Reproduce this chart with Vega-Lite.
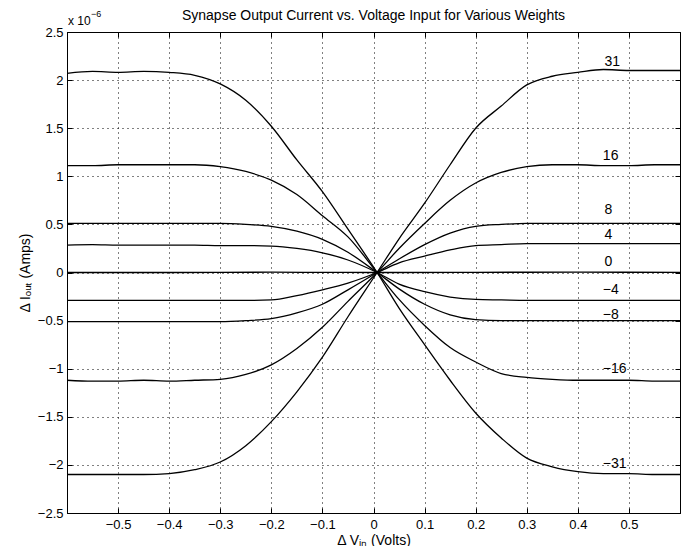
{
  "$schema": "https://vega.github.io/schema/vega-lite/v6.json",
  "width": 613,
  "height": 481,
  "autosize": {"type": "none"},
  "padding": {"left": 67, "top": 32, "right": 2, "bottom": 33},
  "background": "white",
  "config": {
    "view": {"stroke": "black", "strokeWidth": 1},
    "font": "Liberation Sans",
    "axis": {
      "labelFont": "Liberation Sans",
      "labelFontSize": 13,
      "labelColor": "black",
      "titleFont": "Liberation Sans",
      "titleFontSize": 14,
      "titleFontWeight": "normal",
      "titleColor": "black",
      "domainColor": "black",
      "tickColor": "black",
      "gridColor": "black",
      "gridOpacity": 1,
      "gridDash": [1, 4],
      "gridWidth": 1
    }
  },
  "title": {
    "text": "Synapse Output Current vs. Voltage Input for Various Weights",
    "font": "Liberation Sans",
    "fontSize": 14,
    "fontWeight": "normal",
    "color": "black",
    "offset": -13
  },
  "datasets": {
    "curves": [
      {"w":"31","v":-0.6,"i":-2.10},{"w":"31","v":-0.55,"i":-2.10},{"w":"31","v":-0.5,"i":-2.10},{"w":"31","v":-0.45,"i":-2.10},{"w":"31","v":-0.4,"i":-2.09},{"w":"31","v":-0.35,"i":-2.05},{"w":"31","v":-0.3,"i":-1.97},{"w":"31","v":-0.25,"i":-1.80},{"w":"31","v":-0.2,"i":-1.55},{"w":"31","v":-0.15,"i":-1.24},{"w":"31","v":-0.1,"i":-0.88},{"w":"31","v":-0.05,"i":-0.46},{"w":"31","v":0.007,"i":0},{"w":"31","v":0.05,"i":0.35},{"w":"31","v":0.1,"i":0.72},{"w":"31","v":0.15,"i":1.12},{"w":"31","v":0.2,"i":1.50},{"w":"31","v":0.25,"i":1.73},{"w":"31","v":0.3,"i":1.95},{"w":"31","v":0.35,"i":2.04},{"w":"31","v":0.4,"i":2.08},{"w":"31","v":0.45,"i":2.11},{"w":"31","v":0.5,"i":2.10},{"w":"31","v":0.55,"i":2.10},{"w":"31","v":0.6,"i":2.10},
      {"w":"-31","v":-0.6,"i":2.07},{"w":"-31","v":-0.55,"i":2.09},{"w":"-31","v":-0.5,"i":2.08},{"w":"-31","v":-0.45,"i":2.09},{"w":"-31","v":-0.4,"i":2.08},{"w":"-31","v":-0.35,"i":2.05},{"w":"-31","v":-0.3,"i":1.96},{"w":"-31","v":-0.25,"i":1.79},{"w":"-31","v":-0.2,"i":1.52},{"w":"-31","v":-0.15,"i":1.17},{"w":"-31","v":-0.1,"i":0.84},{"w":"-31","v":-0.05,"i":0.45},{"w":"-31","v":0.007,"i":0},{"w":"-31","v":0.05,"i":-0.37},{"w":"-31","v":0.1,"i":-0.75},{"w":"-31","v":0.15,"i":-1.12},{"w":"-31","v":0.2,"i":-1.46},{"w":"-31","v":0.25,"i":-1.72},{"w":"-31","v":0.3,"i":-1.93},{"w":"-31","v":0.35,"i":-2.02},{"w":"-31","v":0.4,"i":-2.07},{"w":"-31","v":0.45,"i":-2.09},{"w":"-31","v":0.5,"i":-2.09},{"w":"-31","v":0.55,"i":-2.10},{"w":"-31","v":0.6,"i":-2.10},
      {"w":"16","v":-0.6,"i":-1.12},{"w":"16","v":-0.55,"i":-1.13},{"w":"16","v":-0.5,"i":-1.13},{"w":"16","v":-0.45,"i":-1.12},{"w":"16","v":-0.4,"i":-1.13},{"w":"16","v":-0.35,"i":-1.12},{"w":"16","v":-0.3,"i":-1.11},{"w":"16","v":-0.25,"i":-1.06},{"w":"16","v":-0.2,"i":-0.96},{"w":"16","v":-0.15,"i":-0.79},{"w":"16","v":-0.1,"i":-0.57},{"w":"16","v":-0.05,"i":-0.30},{"w":"16","v":0.007,"i":0},{"w":"16","v":0.05,"i":0.25},{"w":"16","v":0.1,"i":0.51},{"w":"16","v":0.15,"i":0.75},{"w":"16","v":0.2,"i":0.93},{"w":"16","v":0.25,"i":1.04},{"w":"16","v":0.3,"i":1.10},{"w":"16","v":0.35,"i":1.12},{"w":"16","v":0.4,"i":1.12},{"w":"16","v":0.45,"i":1.11},{"w":"16","v":0.5,"i":1.11},{"w":"16","v":0.55,"i":1.12},{"w":"16","v":0.6,"i":1.12},
      {"w":"-16","v":-0.6,"i":1.11},{"w":"-16","v":-0.55,"i":1.11},{"w":"-16","v":-0.5,"i":1.12},{"w":"-16","v":-0.45,"i":1.12},{"w":"-16","v":-0.4,"i":1.12},{"w":"-16","v":-0.35,"i":1.12},{"w":"-16","v":-0.3,"i":1.10},{"w":"-16","v":-0.25,"i":1.05},{"w":"-16","v":-0.2,"i":0.96},{"w":"-16","v":-0.15,"i":0.81},{"w":"-16","v":-0.1,"i":0.59},{"w":"-16","v":-0.05,"i":0.37},{"w":"-16","v":0.007,"i":0},{"w":"-16","v":0.05,"i":-0.28},{"w":"-16","v":0.1,"i":-0.55},{"w":"-16","v":0.15,"i":-0.78},{"w":"-16","v":0.2,"i":-0.93},{"w":"-16","v":0.25,"i":-1.05},{"w":"-16","v":0.3,"i":-1.09},{"w":"-16","v":0.35,"i":-1.11},{"w":"-16","v":0.4,"i":-1.12},{"w":"-16","v":0.45,"i":-1.12},{"w":"-16","v":0.5,"i":-1.12},{"w":"-16","v":0.55,"i":-1.13},{"w":"-16","v":0.6,"i":-1.13},
      {"w":"8","v":-0.6,"i":-0.51},{"w":"8","v":-0.55,"i":-0.51},{"w":"8","v":-0.5,"i":-0.51},{"w":"8","v":-0.45,"i":-0.51},{"w":"8","v":-0.4,"i":-0.51},{"w":"8","v":-0.35,"i":-0.51},{"w":"8","v":-0.3,"i":-0.51},{"w":"8","v":-0.25,"i":-0.50},{"w":"8","v":-0.2,"i":-0.48},{"w":"8","v":-0.15,"i":-0.42},{"w":"8","v":-0.1,"i":-0.33},{"w":"8","v":-0.05,"i":-0.18},{"w":"8","v":0.007,"i":0},{"w":"8","v":0.05,"i":0.14},{"w":"8","v":0.1,"i":0.29},{"w":"8","v":0.15,"i":0.41},{"w":"8","v":0.2,"i":0.48},{"w":"8","v":0.25,"i":0.50},{"w":"8","v":0.3,"i":0.51},{"w":"8","v":0.35,"i":0.51},{"w":"8","v":0.4,"i":0.51},{"w":"8","v":0.45,"i":0.51},{"w":"8","v":0.5,"i":0.51},{"w":"8","v":0.55,"i":0.51},{"w":"8","v":0.6,"i":0.51},
      {"w":"-8","v":-0.6,"i":0.51},{"w":"-8","v":-0.55,"i":0.51},{"w":"-8","v":-0.5,"i":0.51},{"w":"-8","v":-0.45,"i":0.51},{"w":"-8","v":-0.4,"i":0.51},{"w":"-8","v":-0.35,"i":0.51},{"w":"-8","v":-0.3,"i":0.51},{"w":"-8","v":-0.25,"i":0.50},{"w":"-8","v":-0.2,"i":0.48},{"w":"-8","v":-0.15,"i":0.43},{"w":"-8","v":-0.1,"i":0.345},{"w":"-8","v":-0.05,"i":0.21},{"w":"-8","v":0.007,"i":0},{"w":"-8","v":0.05,"i":-0.17},{"w":"-8","v":0.1,"i":-0.33},{"w":"-8","v":0.15,"i":-0.44},{"w":"-8","v":0.2,"i":-0.49},{"w":"-8","v":0.25,"i":-0.50},{"w":"-8","v":0.3,"i":-0.50},{"w":"-8","v":0.35,"i":-0.50},{"w":"-8","v":0.4,"i":-0.50},{"w":"-8","v":0.45,"i":-0.50},{"w":"-8","v":0.5,"i":-0.50},{"w":"-8","v":0.55,"i":-0.50},{"w":"-8","v":0.6,"i":-0.50},
      {"w":"4","v":-0.6,"i":-0.29},{"w":"4","v":-0.55,"i":-0.29},{"w":"4","v":-0.5,"i":-0.29},{"w":"4","v":-0.45,"i":-0.29},{"w":"4","v":-0.4,"i":-0.29},{"w":"4","v":-0.35,"i":-0.29},{"w":"4","v":-0.3,"i":-0.29},{"w":"4","v":-0.25,"i":-0.29},{"w":"4","v":-0.2,"i":-0.285},{"w":"4","v":-0.15,"i":-0.24},{"w":"4","v":-0.1,"i":-0.18},{"w":"4","v":-0.05,"i":-0.11},{"w":"4","v":0.007,"i":0},{"w":"4","v":0.05,"i":0.10},{"w":"4","v":0.1,"i":0.17},{"w":"4","v":0.15,"i":0.235},{"w":"4","v":0.2,"i":0.28},{"w":"4","v":0.25,"i":0.29},{"w":"4","v":0.3,"i":0.30},{"w":"4","v":0.35,"i":0.30},{"w":"4","v":0.4,"i":0.30},{"w":"4","v":0.45,"i":0.30},{"w":"4","v":0.5,"i":0.30},{"w":"4","v":0.55,"i":0.30},{"w":"4","v":0.6,"i":0.30},
      {"w":"-4","v":-0.6,"i":0.285},{"w":"-4","v":-0.55,"i":0.29},{"w":"-4","v":-0.5,"i":0.285},{"w":"-4","v":-0.45,"i":0.285},{"w":"-4","v":-0.4,"i":0.285},{"w":"-4","v":-0.35,"i":0.285},{"w":"-4","v":-0.3,"i":0.28},{"w":"-4","v":-0.25,"i":0.28},{"w":"-4","v":-0.2,"i":0.275},{"w":"-4","v":-0.15,"i":0.25},{"w":"-4","v":-0.1,"i":0.205},{"w":"-4","v":-0.05,"i":0.13},{"w":"-4","v":0.007,"i":0},{"w":"-4","v":0.05,"i":-0.12},{"w":"-4","v":0.1,"i":-0.20},{"w":"-4","v":0.15,"i":-0.255},{"w":"-4","v":0.2,"i":-0.28},{"w":"-4","v":0.25,"i":-0.285},{"w":"-4","v":0.3,"i":-0.29},{"w":"-4","v":0.35,"i":-0.29},{"w":"-4","v":0.4,"i":-0.29},{"w":"-4","v":0.45,"i":-0.29},{"w":"-4","v":0.5,"i":-0.29},{"w":"-4","v":0.55,"i":-0.29},{"w":"-4","v":0.6,"i":-0.29},
      {"w":"0","v":-0.6,"i":0},{"w":"0","v":-0.4,"i":0},{"w":"0","v":-0.2,"i":0.003},{"w":"0","v":0.007,"i":0},{"w":"0","v":0.2,"i":0.002},{"w":"0","v":0.4,"i":0.003},{"w":"0","v":0.6,"i":0.002}
    ],
    "labels": [
      {"t":"31","v":0.452,"i":2.19},
      {"t":"16","v":0.449,"i":1.21},
      {"t":"8","v":0.452,"i":0.65},
      {"t":"4","v":0.452,"i":0.39},
      {"t":"0","v":0.452,"i":0.11},
      {"t":"−4","v":0.449,"i":-0.18},
      {"t":"−8","v":0.449,"i":-0.44},
      {"t":"−16","v":0.449,"i":-1.0},
      {"t":"−31","v":0.449,"i":-1.99}
    ],
    "note1": [{"v":-0.6,"i":2.5,"t":"x 10"}],
    "note2": [{"v":-0.6,"i":2.5,"t":"−6"}]
  },
  "layer": [
    {
      "data": {"name": "curves"},
      "mark": {"type": "line", "color": "black", "strokeWidth": 1.3, "interpolate": "monotone"},
      "encoding": {
        "x": {
          "field": "v", "type": "quantitative",
          "scale": {"domain": [-0.6, 0.6], "nice": false, "zero": false},
          "axis": {
            "orient": "bottom",
            "values": [-0.5, -0.4, -0.3, -0.2, -0.1, 0, 0.1, 0.2, 0.3, 0.4, 0.5],
            "format": ".1~f",
            "grid": true,
            "tickSize": -5,
            "labelPadding": 10,
            "title": "Δ Vᵢₙ (Volts)",
            "titlePadding": 2
          }
        },
        "y": {
          "field": "i", "type": "quantitative",
          "scale": {"domain": [-2.5, 2.5], "nice": false, "zero": false},
          "axis": {
            "orient": "left",
            "values": [-2.5, -2, -1.5, -1, -0.5, 0, 0.5, 1, 1.5, 2, 2.5],
            "format": ".1~f",
            "grid": true,
            "tickSize": -5,
            "labelPadding": 9,
            "title": "Δ Iₒᵤₜ (Amps)",
            "titlePadding": 5
          }
        },
        "detail": {"field": "w", "type": "nominal"},
        "order": {"field": "v", "type": "quantitative"}
      }
    },
    {
      "data": {"name": "labels"},
      "mark": {"type": "text", "align": "left", "baseline": "middle", "font": "Liberation Sans", "fontSize": 14, "color": "black"},
      "encoding": {
        "x": {
          "field": "v", "type": "quantitative",
          "axis": {"orient": "top", "values": [-0.5, -0.4, -0.3, -0.2, -0.1, 0, 0.1, 0.2, 0.3, 0.4, 0.5], "labels": false, "grid": false, "tickSize": -5, "title": null}
        },
        "y": {
          "field": "i", "type": "quantitative",
          "axis": {"orient": "right", "values": [-2.5, -2, -1.5, -1, -0.5, 0, 0.5, 1, 1.5, 2, 2.5], "labels": false, "grid": false, "tickSize": -5, "title": null}
        },
        "text": {"field": "t"}
      }
    },
    {
      "data": {"name": "note1"},
      "mark": {"type": "text", "align": "left", "baseline": "alphabetic", "font": "Liberation Sans", "fontSize": 12, "color": "black", "dx": 1, "dy": -7},
      "encoding": {
        "x": {"field": "v", "type": "quantitative", "axis": null},
        "y": {"field": "i", "type": "quantitative", "axis": null},
        "text": {"field": "t"}
      }
    },
    {
      "data": {"name": "note2"},
      "mark": {"type": "text", "align": "left", "baseline": "alphabetic", "font": "Liberation Sans", "fontSize": 9, "color": "black", "dx": 24, "dy": -15},
      "encoding": {
        "x": {"field": "v", "type": "quantitative", "axis": null},
        "y": {"field": "i", "type": "quantitative", "axis": null},
        "text": {"field": "t"}
      }
    }
  ],
  "resolve": {"axis": {"x": "independent", "y": "independent"}}
}
